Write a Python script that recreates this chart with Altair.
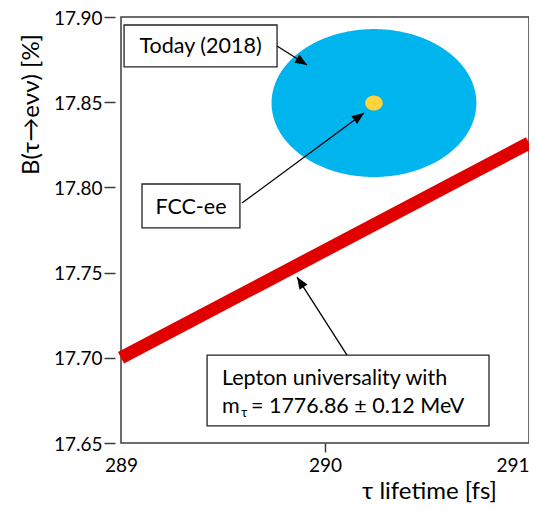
import math
import numpy as np
import pandas as pd
import altair as alt

# ---------------- data ----------------
x_domain = [289, 291]
y_domain = [17.65, 17.90]
x_tick_count = 2          # gives ticks 289, 290, 291
y_ticks = [17.65, 17.70, 17.75, 17.80, 17.85, 17.90]

# Today (2018) measurement: centre (lifetime fs, B %) and half-widths
today_center = [290.24, 17.8495]
today_half = [0.502, 0.0434]
# FCC-ee projection
fcc_center = [290.24, 17.8495]
fcc_half = [0.043, 0.0044]

# Lepton universality prediction
lu_lifetime = [289.0, 291.0]
lu_branching = [17.700, 17.826]

# annotation boxes (data coordinates)
box_x1 = [289.015, 289.103, 289.422]
box_x2 = [289.765, 289.583, 290.804]
box_y1 = [17.8953, 17.8020, 17.7016]
box_y2 = [17.8707, 17.7762, 17.6600]

# centred box texts
ctext_labels = ["Today (2018)", "FCC-ee"]
ctext_x = [289.390, 289.343]
ctext_y = [17.8789, 17.7844]

# lepton box text pieces
ltext_labels = ["Lepton universality with", "m", "= 1776.86 ± 0.12 MeV"]
ltext_x = [289.495, 289.495, 289.637]
ltext_y = [17.6840, 17.6676, 17.6676]
sub_label = ["τ"]
sub_x = [289.590]
sub_y = [17.6650]

# arrows: start -> tip
arrow_x1 = [289.765, 289.593, 290.108]
arrow_y1 = [17.8830, 17.7908, 17.7016]
arrow_x2 = [289.912, 290.191, 289.863]
arrow_y2 = [17.8718, 17.8437, 17.7474]

# ---------------- layout ----------------
W, H = 408, 426
px_x = W / (x_domain[1] - x_domain[0])
px_y = H / (y_domain[1] - y_domain[0])

FONT = "Lato, 'Open Sans', 'DejaVu Sans', sans-serif"
FRAME = "#3c3c3c"

x_scale = alt.Scale(domain=x_domain, nice=False, zero=False)
y_scale = alt.Scale(domain=y_domain, nice=False, zero=False)

x_axis = alt.Axis(
    tickCount=x_tick_count, labelFontSize=19, labelFlush=False,
    labelAlign={"condition": {"test": "datum.value === 291", "value": "right"}, "value": "center"},
    tickSize=9, tickWidth=1.5,
    tickColor={"condition": {"test": "datum.value === 290", "value": FRAME}, "value": "transparent"},
    labelPadding=4, title="τ lifetime [fs]", titleFontSize=24,
    titleX=308, titleY=55, titleAlign="center", titleBaseline="alphabetic",
)
y_axis = alt.Axis(
    values=y_ticks, tickCount=20, format=".2f", labelFontSize=19, labelFlush=False, labelOverlap=False,
    labelOffset=1,
    tickSize=11, tickWidth=1.5, tickColor=FRAME, offset=6, labelPadding=2,
    title="B(τ→eνν) [%]", titleFontSize=24, titleAngle=270,
    titleX=-84, titleY=87, titleAlign="center", titleBaseline="middle",
)


def X(f):
    return alt.X(f, type="quantitative", scale=x_scale, axis=x_axis)


def Y(f):
    return alt.Y(f, type="quantitative", scale=y_scale, axis=y_axis)


def ellipse(center, half, n=241):
    t = np.linspace(0, np.pi, n)
    return pd.DataFrame({
        "x": center[0] + half[0] * np.cos(t),
        "ylo": center[1] - half[1] * np.sin(t),
        "yhi": center[1] + half[1] * np.sin(t),
    })


today_df = ellipse(today_center, today_half)
fcc_df = ellipse(fcc_center, fcc_half)

today = alt.Chart(today_df).mark_area(color="#00B4EE", opacity=1).encode(
    x=X("x"), y=Y("ylo"), y2="yhi")
fcc = alt.Chart(fcc_df).mark_area(color="#FFD43A", opacity=1).encode(
    x=X("x"), y=Y("ylo"), y2="yhi")

lu_df = pd.DataFrame({"x": lu_lifetime, "y": lu_branching})
band = alt.Chart(lu_df).mark_line(color="#E00000", strokeWidth=13, strokeCap="butt").encode(
    x=X("x"), y=Y("y"))

box_df = pd.DataFrame({"x1": box_x1, "x2": box_x2, "y1": box_y1, "y2": box_y2})
boxes = alt.Chart(box_df).mark_rect(fill="white", stroke="#222222", strokeWidth=1.3).encode(
    x=X("x1"), x2="x2", y=Y("y1"), y2="y2")

ang = []
for a, b, c, d in zip(arrow_x1, arrow_y1, arrow_x2, arrow_y2):
    deg = math.degrees(math.atan2(-(d - b) * px_y, (c - a) * px_x)) % 360
    ang.append(deg)
arrow_df = pd.DataFrame({"x1": arrow_x1, "y1": arrow_y1, "x2": arrow_x2, "y2": arrow_y2, "ang": ang})
arrow_lines = alt.Chart(arrow_df).mark_rule(color="black", strokeWidth=1.3).encode(
    x=X("x1"), x2="x2", y=Y("y1"), y2="y2")
arrow_heads = alt.Chart(arrow_df).mark_point(
    shape="M0,0L-1,-0.4L-1,0.4Z", filled=True, size=576, color="black", opacity=1
).encode(x=X("x2"), y=Y("y2"), angle=alt.Angle("ang:Q", scale=None))

ct_df = pd.DataFrame({"x": ctext_x, "y": ctext_y, "t": ctext_labels})
ctexts = alt.Chart(ct_df).mark_text(font=FONT, fontSize=21.5, align="center", baseline="alphabetic",
                                    color="black").encode(x=X("x"), y=Y("y"), text="t:N")
lt_df = pd.DataFrame({"x": ltext_x, "y": ltext_y, "t": ltext_labels})
ltexts = alt.Chart(lt_df).mark_text(font=FONT, fontSize=21.5, align="left", baseline="alphabetic",
                                    color="black").encode(x=X("x"), y=Y("y"), text="t:N")
sub_df = pd.DataFrame({"x": sub_x, "y": sub_y, "t": sub_label})
subt = alt.Chart(sub_df).mark_text(font=FONT, fontSize=13, align="left", baseline="alphabetic",
                                   color="black").encode(x=X("x"), y=Y("y"), text="t:N")

chart = alt.layer(today, fcc, band, boxes, arrow_lines, arrow_heads, ctexts, ltexts, subt).properties(
    width=W, height=H,
    autosize=alt.AutoSizeParams(type="none"),
    padding={"left": 113, "top": 9, "right": 0, "bottom": 60},
).configure_view(stroke=FRAME, strokeWidth=1.5).configure_axis(
    grid=False, domain=False, labelFont=FONT, titleFont=FONT,
    labelColor="black", titleColor="black", titleFontWeight="normal",
)

chart.save("out.html", embed_options={"renderer": "svg", "actions": False})
